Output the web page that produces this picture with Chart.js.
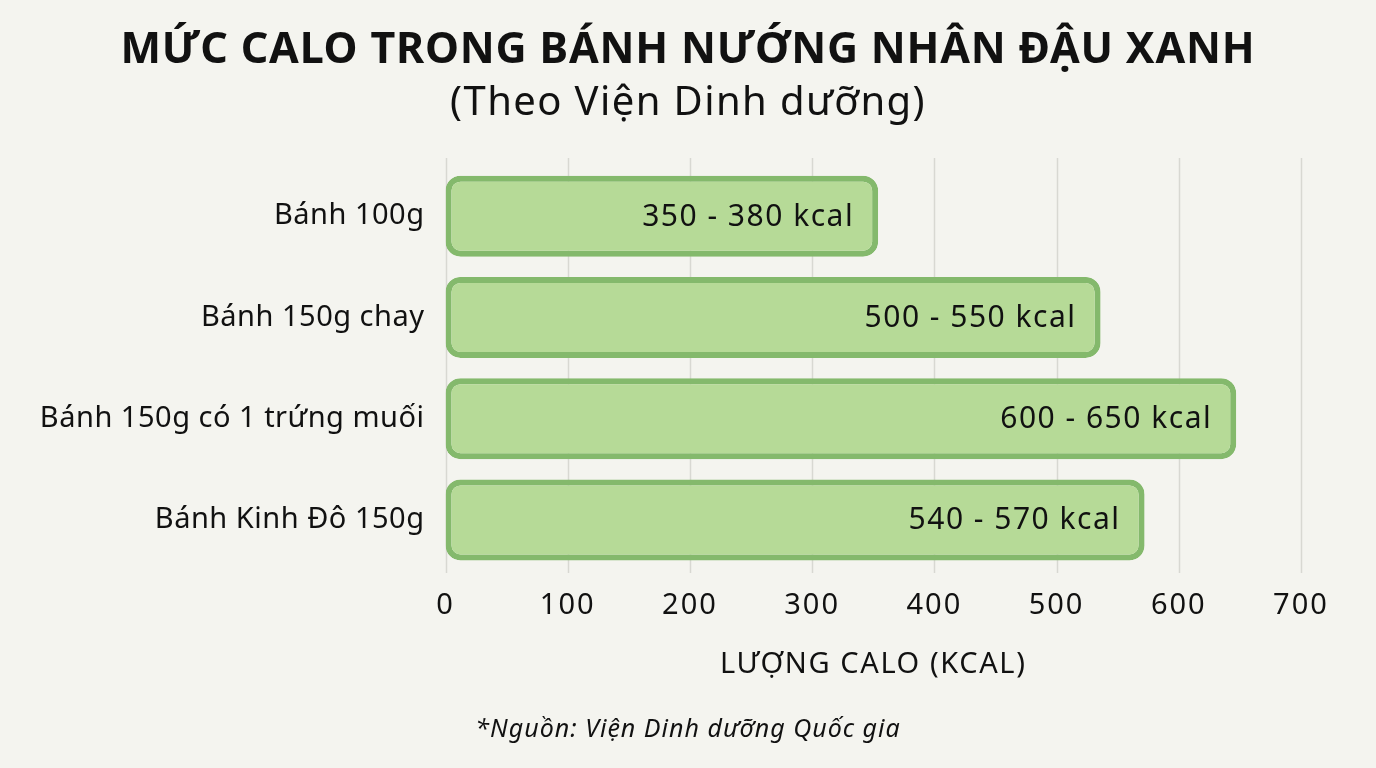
<!DOCTYPE html>
<html>
<head>
<meta charset="utf-8">
<script src="https://cdn.jsdelivr.net/npm/chart.js@4.4.1/dist/chart.umd.min.js"></script>
<style>
  html, body { margin: 0; padding: 0; background: #f4f4ef; }
  #wrap { width: 1376px; height: 768px; position: relative; }
</style>
</head>
<body>
<div id="wrap"><canvas id="c" width="1376" height="768"></canvas></div>
<script>
const titleText = 'MỨC CALO TRONG BÁNH NƯỚNG NHÂN ĐẬU XANH';
const subtitleText = '(Theo Viện Dinh dưỡng)';
const sourceText = '*Nguồn: Viện Dinh dưỡng Quốc gia';
const axisTitle = 'LƯỢNG CALO (KCAL)';
const categories = ['Bánh 100g', 'Bánh 150g chay', 'Bánh 150g có 1 trứng muối', 'Bánh Kinh Đô 150g'];
const barValues = [354, 536, 647, 572];
const rangeLabels = ['350 - 380 kcal', '500 - 550 kcal', '600 - 650 kcal', '540 - 570 kcal'];
const xTicks = [0, 100, 200, 300, 400, 500, 600, 700];

const FONT = '"Noto Sans", Lato, sans-serif';
const TEXT = '#111111';

function withSpacing(ctx, sp, fn) {
  ctx.save();
  ctx.letterSpacing = sp + 'px';
  fn();
  ctx.restore();
}

const decor = {
  id: 'decor',
  afterLayout(chart) {
    const sp = { x: { labels: 2, title: 1.6 }, y: { labels: 0.5, title: 0 } };
    Object.keys(sp).forEach(id => {
      const s = chart.scales[id];
      if (!s || s.__patched) return;
      s.__patched = true;
      const dl = s.drawLabels.bind(s);
      const dt = s.drawTitle.bind(s);
      s.drawLabels = (a) => withSpacing(chart.ctx, sp[id].labels, () => dl(a));
      s.drawTitle = (a) => withSpacing(chart.ctx, sp[id].title, () => dt(a));
    });
  },
  beforeDatasetsDraw(chart) {
    const {ctx, chartArea, scales} = chart;
    const x = scales.x;
    ctx.save();
    ctx.strokeStyle = '#d8d8d2';
    ctx.lineWidth = 1.5;
    x.ticks.forEach((t, i) => {
      const px = Math.round(x.getPixelForTick(i)) + 0.5;
      ctx.beginPath();
      ctx.moveTo(px, chartArea.top - 7.5);
      ctx.lineTo(px, chartArea.bottom + 2.5);
      ctx.stroke();
    });
    ctx.restore();
  },
  afterDatasetsDraw(chart) {
    const {ctx} = chart;
    const meta = chart.getDatasetMeta(0);
    withSpacing(ctx, 1.5, () => {
      ctx.fillStyle = TEXT;
      ctx.font = '30px ' + FONT;
      ctx.textAlign = 'right';
      ctx.textBaseline = 'middle';
      meta.data.forEach((bar, i) => {
        ctx.fillText(rangeLabels[i], bar.x - 24, bar.y + 1);
      });
    });
  },
  afterDraw(chart) {
    const {ctx} = chart;
    ctx.save();
    ctx.fillStyle = TEXT;
    ctx.textAlign = 'center';
    ctx.textBaseline = 'middle';
    ctx.letterSpacing = '0.8px';
    ctx.font = 'bold 43px ' + FONT;
    ctx.fillText(titleText, 688, 51);
    ctx.letterSpacing = '1.4px';
    ctx.font = '40px ' + FONT;
    ctx.fillText(subtitleText, 688, 104);
    ctx.letterSpacing = '1px';
    ctx.font = 'italic 25px ' + FONT;
    ctx.fillText(sourceText, 688, 730);
    ctx.restore();
  }
};

new Chart(document.getElementById('c'), {
  type: 'bar',
  data: {
    labels: categories,
    datasets: [{
      data: barValues,
      backgroundColor: '#b6da97',
      borderColor: '#84b96c',
      borderWidth: 6,
      borderRadius: 15,
      borderSkipped: false,
      categoryPercentage: 1.0,
      barPercentage: 0.8
    }]
  },
  options: {
    indexAxis: 'y',
    responsive: false,
    animation: false,
    devicePixelRatio: 1,
    layout: { padding: { top: 165.6, right: 75, bottom: 0, left: 0 } },
    plugins: { legend: { display: false }, tooltip: { enabled: false }, title: { display: false } },
    scales: {
      x: {
        type: 'linear',
        min: 0, max: 700,
        afterBuildTicks(scale) { scale.ticks = xTicks.map(v => ({ value: v })); },
        grid: { display: false, drawTicks: false },
        border: { display: false },
        ticks: { color: TEXT, font: { family: FONT, size: 29 }, padding: 18 },
        title: { display: true, text: axisTitle, color: TEXT, font: { family: FONT, size: 29 }, padding: { top: 0, bottom: 86 } },
        afterFit(scale) { scale.height = 768 - 570.5; }
      },
      y: {
        grid: { display: false, drawTicks: false },
        border: { display: false },
        ticks: { color: TEXT, font: { family: FONT, size: 29 }, padding: 21 },
        afterFit(scale) { scale.width = 445.5; }
      }
    }
  },
  plugins: [decor]
});
</script>
</body>
</html>
